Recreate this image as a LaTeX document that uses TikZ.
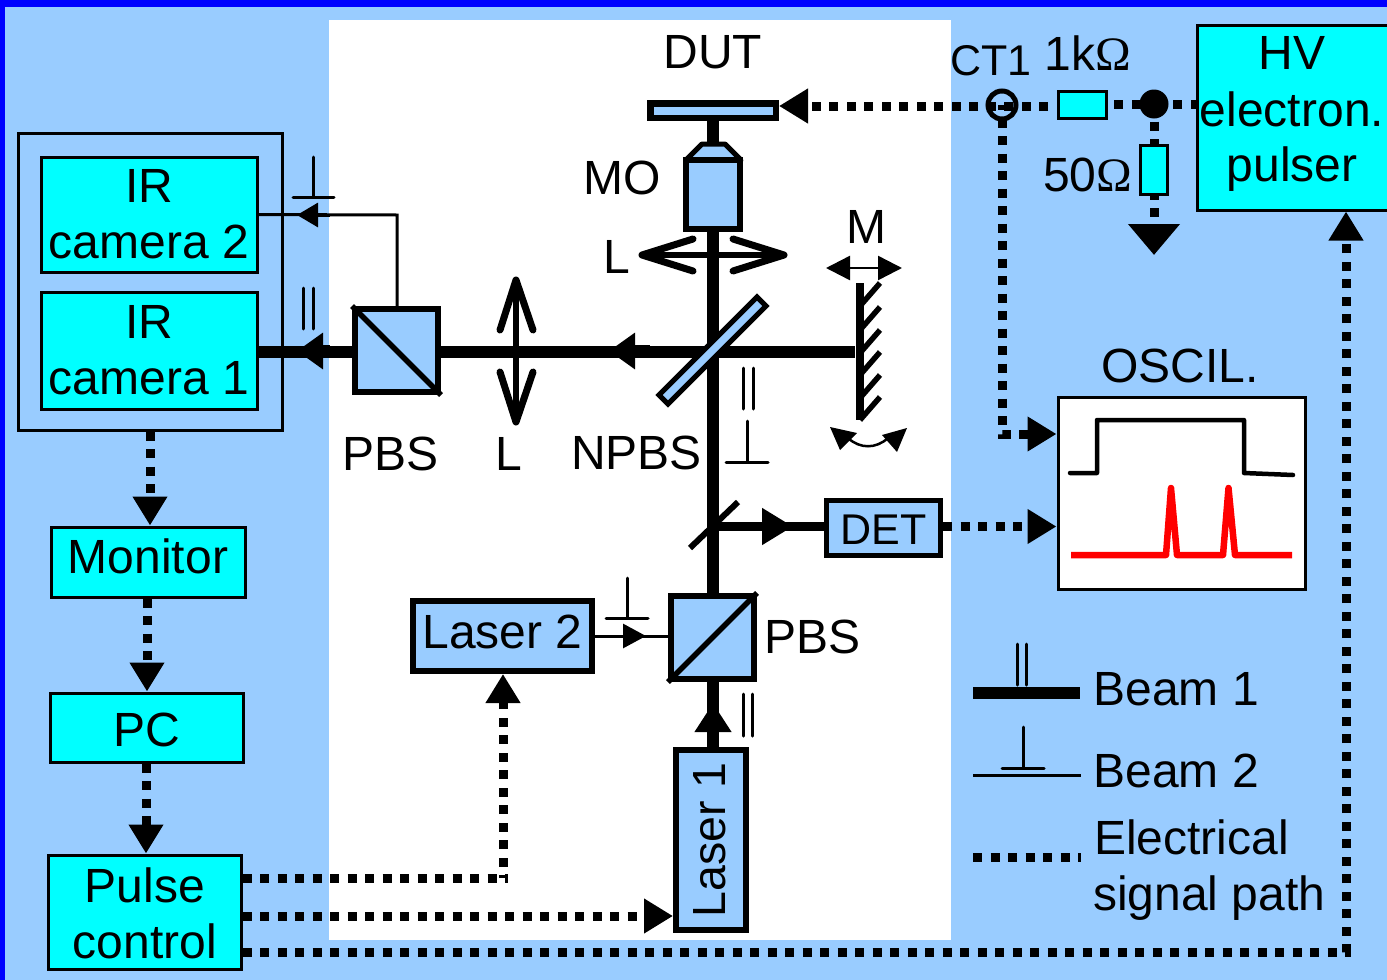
\documentclass[tikz,border=0pt]{standalone}
\usepackage{fontspec}
\setmainfont{Liberation Sans}
\newfontfamily\omegafont{Liberation Serif}
\usetikzlibrary{arrows.meta,calc}
\definecolor{bgblue}{HTML}{99CCFF}
\definecolor{cyanbox}{HTML}{00FFFF}
\tikzset{
  big/.tip={Triangle[length=29pt,width=33pt]},
  txt/.style={inner sep=0pt,outer sep=0pt,anchor=base,font=\fontsize{48}{56}\selectfont},
  txtl/.style={txt,anchor=base west},
  cbox/.style={draw=black,fill=cyanbox,line width=3pt,inner sep=0pt,align=center,font=\fontsize{48}{56}\selectfont},
  obox/.style={draw=black,fill=bgblue,line width=6pt,inner sep=0pt,font=\fontsize{48}{56}\selectfont},
  beamone/.style={line width=11.5pt},
  beamtwo/.style={line width=3pt},
  elec/.style={line width=9pt,dash pattern=on 9pt off 8.5pt},
  sym/.style={line width=3pt,line cap=round},
  lens/.style={line width=7pt,line cap=round,line join=round},
}
\begin{document}
\begin{tikzpicture}[x=1pt,y=-1pt]
\useasboundingbox (0,0) rectangle (1387,980);
% background
\fill[bgblue] (0,0) rectangle (1387,980);
\fill[blue] (0,0) rectangle (1387,7);
\fill[blue] (0,0) rectangle (5,980);
\fill[white] (329,20) rectangle (951,940);

% boxes
\node[draw=black,line width=3pt,minimum width=264pt,minimum height=297pt,inner sep=0pt] (camgroup) at (150,281.5) {};
\node[cbox,minimum width=216pt,minimum height=115pt] (cam2) at (149,214.5) {IR\\camera 2};
\node[cbox,minimum width=216pt,minimum height=117pt] (cam1) at (149,350.5) {IR\\camera 1};
\node[cbox,minimum width=194pt,minimum height=70pt] (monitor) at (148,562) {\raisebox{-11pt}[0pt][0pt]{Monitor}};
\node[cbox,minimum width=193pt,minimum height=69pt] (pc) at (146.5,727.5) {\raisebox{-18.5pt}[0pt][0pt]{PC}};
\node[cbox,minimum width=193pt,minimum height=114pt] (pulse) at (144.5,912) {};
\node[txt] (pt1) at (145,902) {Pulse};
\node[txt] (pt2) at (145,958) {control};
\node[cbox,minimum width=205pt,minimum height=185pt] (hv) at (1299.5,117.5) {};
\node[txt] (hvt1) at (1292,69) {HV};
\node[txt] (hvt2) at (1292,126) {electron.};
\node[txt] (hvt3) at (1292,181) {pulser};
\node[draw=black,fill=white,line width=3pt,minimum width=247pt,minimum height=192pt,inner sep=0pt] (oscil) at (1181.5,493) {};

\coordinate (dutc) at (713,110.5);
\coordinate (bs) at (713,352);
\coordinate (mirror) at (855,352);
\coordinate (bst) at (713,526.5);

\node[obox,line width=5pt,minimum width=114pt,minimum height=55pt,font=\fontsize{43}{50}\selectfont] (det) at (883.5,527.5) {\raisebox{-17pt}[0pt][0pt]{DET}};
\node[obox,minimum width=179pt,minimum height=70pt] (laser2) at (502.5,636) {\raisebox{-12.5pt}[0pt][0pt]{Laser 2}};
\node[obox,minimum width=70pt,minimum height=180pt] (laser1) at (711,840) {};
\node[inner sep=0pt,rotate=90,font=\fontsize{46.5}{50}\selectfont] (laser1t) at (710,840) {Laser 1};

% beams
\draw[beamone] (dutc) -- (dutc |- laser1.north);
\draw[beamone] (cam1.east |- mirror) -- (mirror);
\draw[line width=9.5pt] (bst) -- (det.west |- bst);
\draw[beamtwo] (cam2.east) -- (397,215) -- (397,309);
\draw[beamtwo] (laser2.east) -- (671,636);
% arrows on beams
\draw[beamone,-{Triangle[length=26pt,width=35pt]}] (330,351) -- (297,351);
\draw[beamone,-{Triangle[length=26pt,width=35pt]}] (650,351) -- (609,351);
\draw[line width=9.5pt,-{Triangle[length=31pt,width=35pt]}] (730,526.5) -- (793,526.5);
\draw[beamone,-{Triangle[length=29pt,width=35pt]}] (713,748) -- (713,703);
\draw[beamtwo,-{Triangle[length=21pt,width=24pt]}] (330,215) -- (297,215);
\draw[beamtwo,-{Triangle[length=23pt,width=24pt]}] (600,636) -- (646,636);

% beam splitters
\draw[line width=6pt] (690,548) -- (738,502);
\node[obox,minimum size=83pt] (pbsb) at (712.5,637.5) {};
\draw[line width=5.5pt] (pbsb.south west) -- (pbsb.north east);
\node[obox,minimum size=83pt] (pbst) at (396.5,350.5) {};
\draw[line width=5.5pt] (pbst.north west) -- (pbst.south east);
\draw[fill=bgblue,line width=5pt] (757,297) -- (766,306) -- (668,404) -- (659,395) -- cycle;

% DUT
\node[obox,line width=6.5pt,minimum width=125.5pt,minimum height=14.5pt] (dut) at (713,110.5) {};
% MO
\draw[fill=bgblue,line width=5pt,line join=round] (686,160) -- (702,144) -- (725,144) -- (741,160) -- cycle;
\draw[fill=bgblue,line width=6pt] (686,160) rectangle (740,229);
% Lenses
\draw[line width=6.5pt] (642,255) -- (784,255);
\draw[lens] (693,239) -- (642,255) -- (693,271);
\draw[lens] (733,239) -- (784,255) -- (733,271);
\draw[line width=6.5pt] (516,280) -- (516,422);
\draw[lens] (500,330) -- (516,280) -- (533,330);
\draw[lens] (500,372) -- (516,422) -- (533,372);
% Mirror
\draw[line width=8pt] (860,283) -- (860,420);
\foreach \y in {283,307,330,352,375,397}{
  \draw[line width=5.5pt] (860,\y+23) -- (880,\y);
}
\draw[line width=2.5pt,{Triangle[length=24pt,width=24pt]}-{Triangle[length=24pt,width=24pt]}] (826,268) -- (902,268);
\draw[line width=2.5pt] (848,438) .. controls (860,449) and (876,449) .. (888,438);
\fill (830,427) -- (857,433) -- (840,450) -- cycle;
\fill (907,428) -- (882,435) -- (897,452) -- cycle;

% polarisation symbols
\draw[sym] (313,157) -- (313,197) (293,197) -- (334,197);
\draw[sym] (303,288) -- (303,329) (313,288) -- (313,329);
\draw[sym] (743,368) -- (743,409) (753,368) -- (753,409);
\draw[sym] (747,421) -- (747,462) (726,462) -- (768,462);
\draw[sym] (627,578) -- (627,618) (606,618) -- (648,618);
\draw[sym] (743,694) -- (743,736) (752,694) -- (752,736);

% electrical
\node[draw=black,fill=cyanbox,line width=3pt,minimum width=48pt,minimum height=27pt,inner sep=0pt] (r1) at (1082,104.5) {};
\node[draw=black,fill=cyanbox,line width=3pt,minimum width=27pt,minimum height=49pt,inner sep=0pt] (r2) at (1154,169.5) {};
\node[circle,fill=black,minimum size=29pt,inner sep=0pt] (dot) at (1154,104) {};
\node[circle,draw=black,line width=5pt,minimum size=28pt,inner sep=0pt] (ct) at (1002,105) {};
\coordinate (dutr) at (779,106);
\draw[elec,dash phase=9pt,-{big}] (r1.west |- dutr) -- (dutr);
\draw[elec,dash phase=4pt] (hv.west |- dot) -- (dot.center);
\draw[elec,dash phase=4pt] (dot.center) -- (r1.east |- dot);
\draw[elec] (dot.center) -- (r2.north);
\coordinate (gnd) at (1154,255);
\draw[elec,dash phase=5pt,-{Triangle[length=31pt,width=50pt]}] (r2.south) -- (gnd);
\coordinate (oscin) at (oscil.west |- 0,434);
\draw[elec,dash phase=4pt,-{big}] (ct.center) -- (1002,434) -- (oscin);
\draw[elec,-{big}] (det.east |- bst) -- (oscil.west |- bst);
\draw[elec,-{big}] (camgroup.south -| 150,0) -- (monitor.north -| 150,0);
\draw[elec,-{big}] (monitor.south -| 147,0) -- (pc.north -| 147,0);
\draw[elec,-{big}] (pc.south -| 146,0) -- (pulse.north -| 146,0);
\draw[elec] (pulse.east |- 0,878) -- (507.5,878);
\draw[elec,dash phase=6pt,-{big}] (503,878) -- (laser2.south -| 503,0);
\draw[elec,-{big}] (pulse.east |- 0,916) -- (laser1.west |- 0,916);
\draw[elec,-{big}] (pulse.east |- 0,952) -- (1346,952) -- (hv.south -| 1346,0);

% oscilloscope traces
\draw[line width=4.5pt,line cap=round,line join=round] (1070,473) -- (1097,473) -- (1097,420) -- (1244,420) -- (1244,473) -- (1293,475);
\draw[red,line width=6.5pt,line join=round] (1071,555) -- (1166,555) -- (1171,488) -- (1177,555) -- (1223,555) -- (1228.5,488) -- (1235,555) -- (1292,555);

% legend
\coordinate (la) at (973,693); \coordinate (lb) at (1080,693);
\draw[beamone] (la) -- (lb);
\draw[sym] (1017,644) -- (1017,685) (1026,644) -- (1026,685);
\coordinate (lc) at (973,775); \coordinate (ld) at (1081,775);
\draw[beamtwo] (lc) -- (ld);
\draw[sym] (1023,727) -- (1023,768) (1002,768) -- (1044,768);
\coordinate (le) at (973,857); \coordinate (lf) at (1081,857);
\draw[elec] (le) -- (lf);

% labels
\node[txt] (tdut) at (713,68) {DUT};
\node[txt,font=\fontsize{43}{50}\selectfont] (tct) at (991,75) {CT1};
\node[txtl] (t1k) at (1044.5,70) {1k{\omegafont Ω}};
\node[txtl] (t50) at (1043,191) {50{\omegafont Ω}};
\node[txt] (tmo) at (622,194) {MO};
\node[txt] (tl1) at (617,273) {L};
\node[txt] (tm) at (866,243) {M};
\node[txt] (tos) at (1180,382) {OSCIL.};
\node[txt] (tpbs1) at (390.5,470) {PBS};
\node[txt] (tl2) at (509,470) {L};
\node[txt] (tnp) at (636.5,469) {NPBS};
\node[txtl] (tpbs2) at (764,653) {PBS};
\node[txtl] (tb1) at (1093.5,705) {Beam 1};
\node[txtl] (tb2) at (1093.5,787) {Beam 2};
\node[txtl] (te1) at (1094,854) {Electrical};
\node[txtl] (te2) at (1093,910) {signal path};
\end{tikzpicture}
\end{document}
